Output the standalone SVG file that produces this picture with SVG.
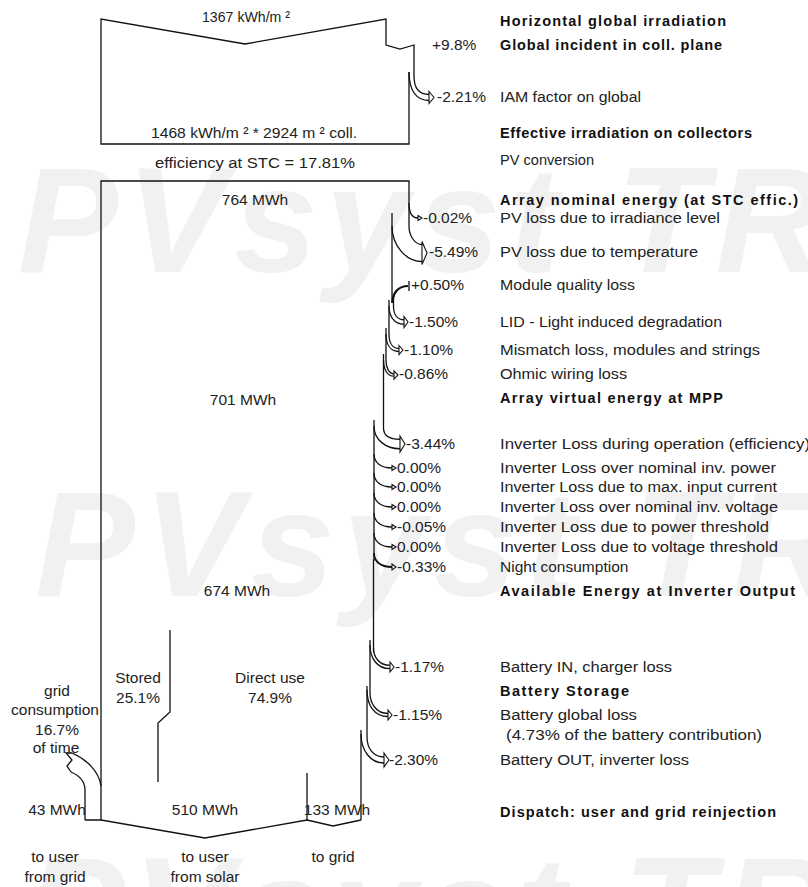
<svg xmlns="http://www.w3.org/2000/svg" width="808" height="887" viewBox="0 0 808 887">
<style>
.wm{font-family:"Liberation Sans",Arial,sans-serif;font-weight:bold;font-style:italic;font-size:150px;fill:#f1f1f1;letter-spacing:8px}
.t{font-family:"Liberation Sans",Arial,sans-serif;font-size:15.5px;fill:#222}
.b{font-family:"Liberation Sans",Arial,sans-serif;font-size:14.5px;font-weight:bold;fill:#111}
.c{text-anchor:middle}
.ln{fill:none;stroke:#111;stroke-width:1.3}
.hd{fill:#fff;stroke:#111;stroke-width:1.1;stroke-linejoin:miter}
</style>
<rect width="808" height="887" fill="#fff"/>
<g id="watermark">
<text class="wm" x="18" y="272">PVsyst TRIAL</text>
<text class="wm" x="35" y="596">PVsyst TRIAL</text>
<text class="wm" x="25" y="962">PVsyst TRIAL</text>
</g>
<g id="connectors">
<path class="ln" d="M409,72 L409,144 L101,144 L101,19 L245,44 L386,19 L386,45 L400,49 L414,45 L414,76"/>
<path class="ln" d="M414,76 C414,88 419,94.5 429,94.5"/>
<path class="ln" d="M409,72 C409,90 416,100.5 429,100.5"/>
<path class="hd" d="M429,91.5 L434,97.5 L429,103.5 Z"/>
<path class="ln" d="M101,820 L101,181 L409,181 L409,226"/>
<path class="ln" d="M409,203 C409,212 412,218 418,218"/>
<path class="hd" d="M418,215.5 L422,218 L418,220.5 Z"/>
<path class="ln" d="M409,226 C409,236 415,244.5 422,244.5"/>
<path class="ln" d="M392,226 C392,245 405.5,261.5 422,261.5"/>
<path class="hd" d="M422,241.5 L427,253 L422,264.5 Z"/>
<path class="ln" d="M392,213 L392,303"/>
<path d="M392.5,303 C392.5,292 399,286 408,286" fill="none" stroke="#111" stroke-width="2.2"/>
<path class="ln" d="M409,281 L409,291"/>
<path class="ln" d="M393.5,294 L393.5,306"/>
<path class="ln" d="M393.5,306 C393.5,314 397,319.75 404,319.75"/>
<path class="ln" d="M389,306 C389,316 394,324.25 404,324.25"/>
<path class="hd" d="M404,316.5 L408,322 L404,327.5 Z"/>
<path class="ln" d="M389,300 L389,334"/>
<path class="ln" d="M389,334 C389,342 392,348.5 399,348.5"/>
<path class="ln" d="M386,334 C386,344 390,351.5 399,351.5"/>
<path class="hd" d="M399,345.5 L403,350 L399,354.5 Z"/>
<path class="ln" d="M386,328 L386,360"/>
<path class="ln" d="M386,360 C386,368 389,373.8 394,373.8"/>
<path class="ln" d="M383.5,360 C383.5,369 387,376.2 394,376.2"/>
<path class="hd" d="M394,370.8 L398,375 L394,379.2 Z"/>
<path class="ln" d="M383.5,354 L383.5,428"/>
<path class="ln" d="M383.5,428 C383.5,436 390,439.25 400,439.25"/>
<path class="ln" d="M374,426 C374,440 386,448.75 400,448.75"/>
<path class="hd" d="M400,436 L405,444 L400,452 Z"/>
<path class="ln" d="M374,420 L374,560 L373.5,560 L373.5,652"/>
<path class="ln" d="M374,454 C374,462 380,468 392,468"/>
<path class="hd" d="M392,465.5 L396,468 L392,470.5 Z"/>
<path class="ln" d="M374,473 C374,481 380,487 392,487"/>
<path class="hd" d="M392,484.5 L396,487 L392,489.5 Z"/>
<path class="ln" d="M374,493 C374,501 380,507 392,507"/>
<path class="hd" d="M392,504.5 L396,507 L392,509.5 Z"/>
<path class="ln" d="M374,513 C374,521 380,527 392,527"/>
<path class="hd" d="M392,524.5 L396,527 L392,529.5 Z"/>
<path class="ln" d="M374,533 C374,541 380,547 392,547"/>
<path class="hd" d="M392,544.5 L396,547 L392,549.5 Z"/>
<path d="M374,553 C374,561 380,567 392,567" fill="none" stroke="#111" stroke-width="1.8"/>
<path class="hd" d="M392,564 L396,567 L392,570 Z"/>
<path class="ln" d="M373.5,648 C373.5,657 379,665.3 390,665.3"/>
<path class="ln" d="M370,645 C370,658 377,668.7 390,668.7"/>
<path class="hd" d="M390,662 L394,667 L390,672 Z"/>
<path class="ln" d="M370,640 L370,693"/>
<path class="ln" d="M370,693 C370,703 376,713.5 388,713.5"/>
<path class="ln" d="M367,690 C367,705 374,716.5 388,716.5"/>
<path class="hd" d="M388,710 L392,715 L388,720 Z"/>
<path class="ln" d="M367,686 L367,737"/>
<path class="ln" d="M367,737 C367,748 373,757 384,757"/>
<path class="ln" d="M361,734 C361,750 370,763 384,763"/>
<path class="hd" d="M384,753 L389,760 L384,767 Z"/>
<path class="ln" d="M361,730 L361,820"/>
<path class="ln" d="M85,820 L101,820 L205,838 L307,820 L333,826 L361,820"/>
<path class="ln" d="M307,773 L307,820"/>
<path class="ln" d="M170,630 L170,712 L158,723 L158,782"/>
<path class="ln" d="M85,820 L85,790 C85,781 78,775 71,772"/>
<path class="ln" d="M101,786 C99,771 86,759 72,753"/>
<path class="ln" d="M71,772 L67,766 L72,760 L66,753 L72,753"/>
</g>
<g id="left-labels">
<text class="t c" x="246" y="22" textLength="88" lengthAdjust="spacingAndGlyphs" font-size="13">1367 kWh/m ²</text>
<text class="t c" x="254" y="138" textLength="206" lengthAdjust="spacingAndGlyphs" font-size="14">1468 kWh/m ²  * 2924 m ²  coll.</text>
<text class="t c" x="255" y="168" textLength="200" lengthAdjust="spacingAndGlyphs">efficiency at STC = 17.81%</text>
<text class="t c" x="255" y="205">764 MWh</text>
<text class="t c" x="243" y="405">701 MWh</text>
<text class="t c" x="237" y="596">674 MWh</text>
<text class="t c" x="138" y="683">Stored</text>
<text class="t c" x="138" y="703">25.1%</text>
<text class="t c" x="270" y="683">Direct use</text>
<text class="t c" x="270" y="703">74.9%</text>
<text class="t c" x="57" y="696">grid</text>
<text class="t c" x="55" y="715">consumption</text>
<text class="t c" x="57" y="735">16.7%</text>
<text class="t c" x="56" y="753">of time</text>
<text class="t c" x="57" y="815">43 MWh</text>
<text class="t c" x="205" y="815">510 MWh</text>
<text class="t c" x="337" y="815">133 MWh</text>
<text class="t c" x="55" y="862">to user</text>
<text class="t c" x="55" y="882">from grid</text>
<text class="t c" x="205" y="862">to user</text>
<text class="t c" x="205" y="882">from solar</text>
<text class="t c" x="333" y="862">to grid</text>
</g>
<g id="pct-labels">
<text class="t" x="432" y="50">+9.8%</text>
<text class="t" x="437" y="102">-2.21%</text>
<text class="t" x="423" y="223">-0.02%</text>
<text class="t" x="429" y="257">-5.49%</text>
<text class="t" x="411" y="290">+0.50%</text>
<text class="t" x="409" y="327">-1.50%</text>
<text class="t" x="404" y="355">-1.10%</text>
<text class="t" x="399" y="379">-0.86%</text>
<text class="t" x="406" y="449">-3.44%</text>
<text class="t" x="397" y="473">0.00%</text>
<text class="t" x="397" y="492">0.00%</text>
<text class="t" x="397" y="512">0.00%</text>
<text class="t" x="397" y="532">-0.05%</text>
<text class="t" x="397" y="552">0.00%</text>
<text class="t" x="397" y="572">-0.33%</text>
<text class="t" x="395" y="672">-1.17%</text>
<text class="t" x="393" y="720">-1.15%</text>
<text class="t" x="389" y="765">-2.30%</text>
</g>
<g id="descriptions">
<text class="b" x="500" y="26" textLength="226">Horizontal global irradiation</text>
<text class="b" x="500" y="50" textLength="222">Global incident in coll. plane</text>
<text class="t" x="500" y="102" textLength="141" lengthAdjust="spacingAndGlyphs">IAM factor on global</text>
<text class="b" x="500" y="138" textLength="252">Effective irradiation on collectors</text>
<text class="t" x="500" y="165" textLength="94" lengthAdjust="spacingAndGlyphs">PV conversion</text>
<text class="b" x="500" y="205" textLength="298">Array nominal energy (at STC effic.)</text>
<text class="t" x="500" y="223" textLength="220" lengthAdjust="spacingAndGlyphs">PV loss due to irradiance level</text>
<text class="t" x="500" y="257" textLength="198" lengthAdjust="spacingAndGlyphs">PV loss due to temperature</text>
<text class="t" x="500" y="290" textLength="135" lengthAdjust="spacingAndGlyphs">Module quality loss</text>
<text class="t" x="500" y="327" textLength="222" lengthAdjust="spacingAndGlyphs">LID - Light induced degradation</text>
<text class="t" x="500" y="355" textLength="260" lengthAdjust="spacingAndGlyphs">Mismatch loss, modules and strings</text>
<text class="t" x="500" y="379" textLength="127" lengthAdjust="spacingAndGlyphs">Ohmic wiring loss</text>
<text class="b" x="500" y="403" textLength="223">Array virtual energy at MPP</text>
<text class="t" x="500" y="449" textLength="310" lengthAdjust="spacingAndGlyphs">Inverter Loss during operation (efficiency)</text>
<text class="t" x="500" y="473" textLength="276" lengthAdjust="spacingAndGlyphs">Inverter Loss over nominal inv. power</text>
<text class="t" x="500" y="492" textLength="277" lengthAdjust="spacingAndGlyphs">Inverter Loss due to max. input current</text>
<text class="t" x="500" y="512" textLength="278" lengthAdjust="spacingAndGlyphs">Inverter Loss over nominal inv. voltage</text>
<text class="t" x="500" y="532" textLength="269" lengthAdjust="spacingAndGlyphs">Inverter Loss due to power threshold</text>
<text class="t" x="500" y="552" textLength="278" lengthAdjust="spacingAndGlyphs">Inverter Loss due to voltage threshold</text>
<text class="t" x="500" y="572">Night consumption</text>
<text class="b" x="500" y="596" textLength="295">Available Energy at Inverter Output</text>
<text class="t" x="500" y="672" textLength="172" lengthAdjust="spacingAndGlyphs">Battery IN, charger loss</text>
<text class="b" x="500" y="696" textLength="129">Battery  Storage</text>
<text class="t" x="500" y="720" textLength="137" lengthAdjust="spacingAndGlyphs">Battery global loss</text>
<text class="t" x="506" y="740" textLength="256" lengthAdjust="spacingAndGlyphs">(4.73% of the battery contribution)</text>
<text class="t" x="500" y="765" textLength="189" lengthAdjust="spacingAndGlyphs">Battery OUT, inverter loss</text>
<text class="b" x="500" y="817" textLength="276">Dispatch: user and grid reinjection</text>
</g>
</svg>
